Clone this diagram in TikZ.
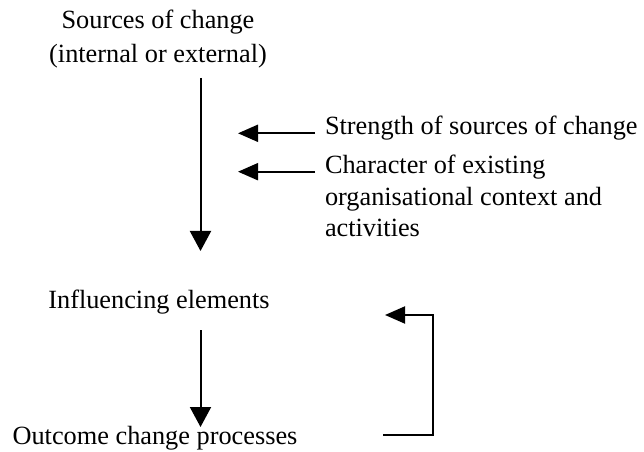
\documentclass[tikz,border=0pt]{standalone}
\usepackage{fontspec}
\setmainfont{Liberation Serif}
\usetikzlibrary{arrows.meta}
\begin{document}
\begin{tikzpicture}[x=1bp,y=-1bp,
  lbl/.style={inner sep=0pt, outer sep=0pt, font=\fontsize{26.4}{32}\selectfont},
  arr/.style={line width=2bp, -{Triangle[length=20bp,width=21bp]}},
  harr/.style={line width=2bp, -{Triangle[length=20bp,width=17bp]}}]
\useasboundingbox (0,0) rectangle (644,452);
\node[lbl, anchor=base] (src1) at (158,29) {Sources of change};
\node[lbl, anchor=base] (src2) at (158,63) {(internal or external)};
\node[lbl, anchor=base west] (str) at (325,135) {Strength of sources of change};
\node[lbl, anchor=base west, align=left] (chr) at (325,237) {Character of existing\\organisational context and\\activities};
\node[lbl, anchor=base] (infl) at (159,309) {Influencing elements};
\node[lbl, anchor=base] (out) at (155,444) {Outcome change processes};
% connectors
\coordinate (a1s) at (200.5,78);
\coordinate (a1e) at (200.5,251);
\draw[arr] (a1s) -- (a1e);
\coordinate (h1e) at (238,133.3);
\coordinate (h2e) at (238,171.7);
\draw[harr] ([xshift=-10bp]str.west |- h1e) -- (h1e);
\draw[harr] ([xshift=-10bp]str.west |- h2e) -- (h2e);
\coordinate (a2s) at (200.5,330);
\coordinate (a2e) at (200.5,427);
\draw[arr] (a2s) -- (a2e);
\coordinate (fb1) at (383,435);
\coordinate (fb2) at (432.5,435);
\coordinate (fb3) at (432.5,315);
\coordinate (fb4) at (385,315);
\draw[harr] (fb1) -- (fb2) -- (fb3) -- (fb4);
\end{tikzpicture}
\end{document}
